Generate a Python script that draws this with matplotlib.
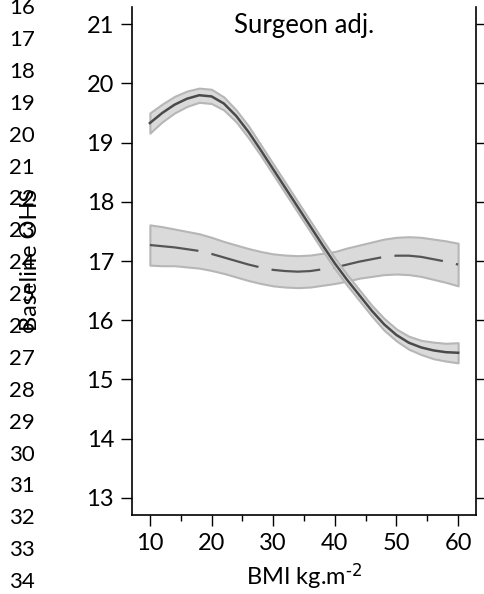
import numpy as np
import matplotlib.pyplot as plt

plt.rcParams['font.family'] = ['Lato', 'DejaVu Sans']
plt.rcParams['mathtext.default'] = 'regular'

# BMI grid (kg/m^2)
bmi = np.array([10, 12, 14, 16, 18, 20, 22, 24, 26, 28, 30, 32, 34,
                36, 38, 40, 42, 44, 46, 48, 50, 52, 54, 56, 58, 60])

# Surgeon-adjusted baseline OHS, first model (solid) with CI half-width
ohs_solid = np.array([19.33, 19.50, 19.64, 19.74, 19.80, 19.78, 19.66, 19.45, 19.18,
                      18.87, 18.55, 18.23, 17.91, 17.59, 17.27, 16.96, 16.68, 16.42,
                      16.16, 15.93, 15.75, 15.62, 15.54, 15.49, 15.46, 15.45])
ci_solid = np.array([0.17, 0.15, 0.14, 0.13, 0.12, 0.12, 0.11, 0.10, 0.10, 0.09,
                     0.09, 0.09, 0.09, 0.09, 0.09, 0.09, 0.09, 0.09, 0.09, 0.10,
                     0.10, 0.11, 0.12, 0.14, 0.15, 0.17])

# second model (dashed) with CI half-width
ohs_dashed = np.array([17.27, 17.25, 17.23, 17.20, 17.17, 17.12, 17.06, 17.00, 16.94,
                       16.89, 16.85, 16.83, 16.82, 16.83, 16.86, 16.89, 16.94, 16.99,
                       17.03, 17.07, 17.09, 17.09, 17.07, 17.03, 16.99, 16.94])
ci_dashed = np.array([0.34, 0.33, 0.31, 0.30, 0.29, 0.28, 0.27, 0.27, 0.27, 0.27,
                      0.27, 0.27, 0.27, 0.27, 0.27, 0.27, 0.28, 0.28, 0.29, 0.30,
                      0.31, 0.32, 0.33, 0.34, 0.35, 0.36])

xticks = [10, 20, 30, 40, 50, 60]
yticks = [13, 14, 15, 16, 17, 18, 19, 20, 21]
line_numbers = list(range(16, 35))

fig = plt.figure(figsize=(4.84, 5.94), dpi=100)
ax = fig.add_axes([132/484, 1 - 515/594, 344/484, 508/594])

band_face = '#dadada'
band_edge = '#b6b6b6'
line_col = '#4a4a4a'

ax.fill_between(bmi, ohs_dashed - ci_dashed, ohs_dashed + ci_dashed,
                facecolor=band_face, edgecolor=band_edge, linewidth=1.5, zorder=1)
ax.plot(bmi, ohs_dashed, color='#555555', linewidth=1.6,
        dashes=(22, 6), zorder=2)
ax.fill_between(bmi, ohs_solid - ci_solid, ohs_solid + ci_solid,
                facecolor=band_face, edgecolor=band_edge, linewidth=1.5, zorder=3)
ax.plot(bmi, ohs_solid, color=line_col, linewidth=1.8,
        solid_joinstyle='round', zorder=4)

ax.set_xlim(7.1, 62.9)
ax.set_ylim(12.71, 21.29)
ax.set_xticks(xticks)
ax.set_xticks([15, 25, 35, 45, 55], minor=True)
ax.set_yticks(yticks)

ax.spines['top'].set_visible(False)
for s in ['left', 'right', 'bottom']:
    ax.spines[s].set_linewidth(1.2)

ax.tick_params(axis='both', which='major', direction='out', length=8, width=1,
               labelsize=17, pad=5)
ax.tick_params(axis='x', which='minor', direction='out', length=4.5, width=1)
ax.tick_params(axis='y', right=True, labelright=False)

ax.set_xlabel(r'BMI kg.m$^{\text{-2}}$', fontsize=17, labelpad=5)
ax.text(0.5, 0.988, 'Surgeon adj.', transform=ax.transAxes, ha='center',
        va='top', fontsize=18.5)

# manuscript line numbers down the left margin
for i, n in enumerate(line_numbers):
    fig.text(22/484, 1 - (8 + 31.9*i)/594, str(n), ha='center', va='center',
             fontsize=16)

fig.text(31/484, 1 - 260/594, 'Baseline OHS', rotation=90, ha='center',
         va='center', fontsize=17)

fig.savefig('out.png', dpi=100)
